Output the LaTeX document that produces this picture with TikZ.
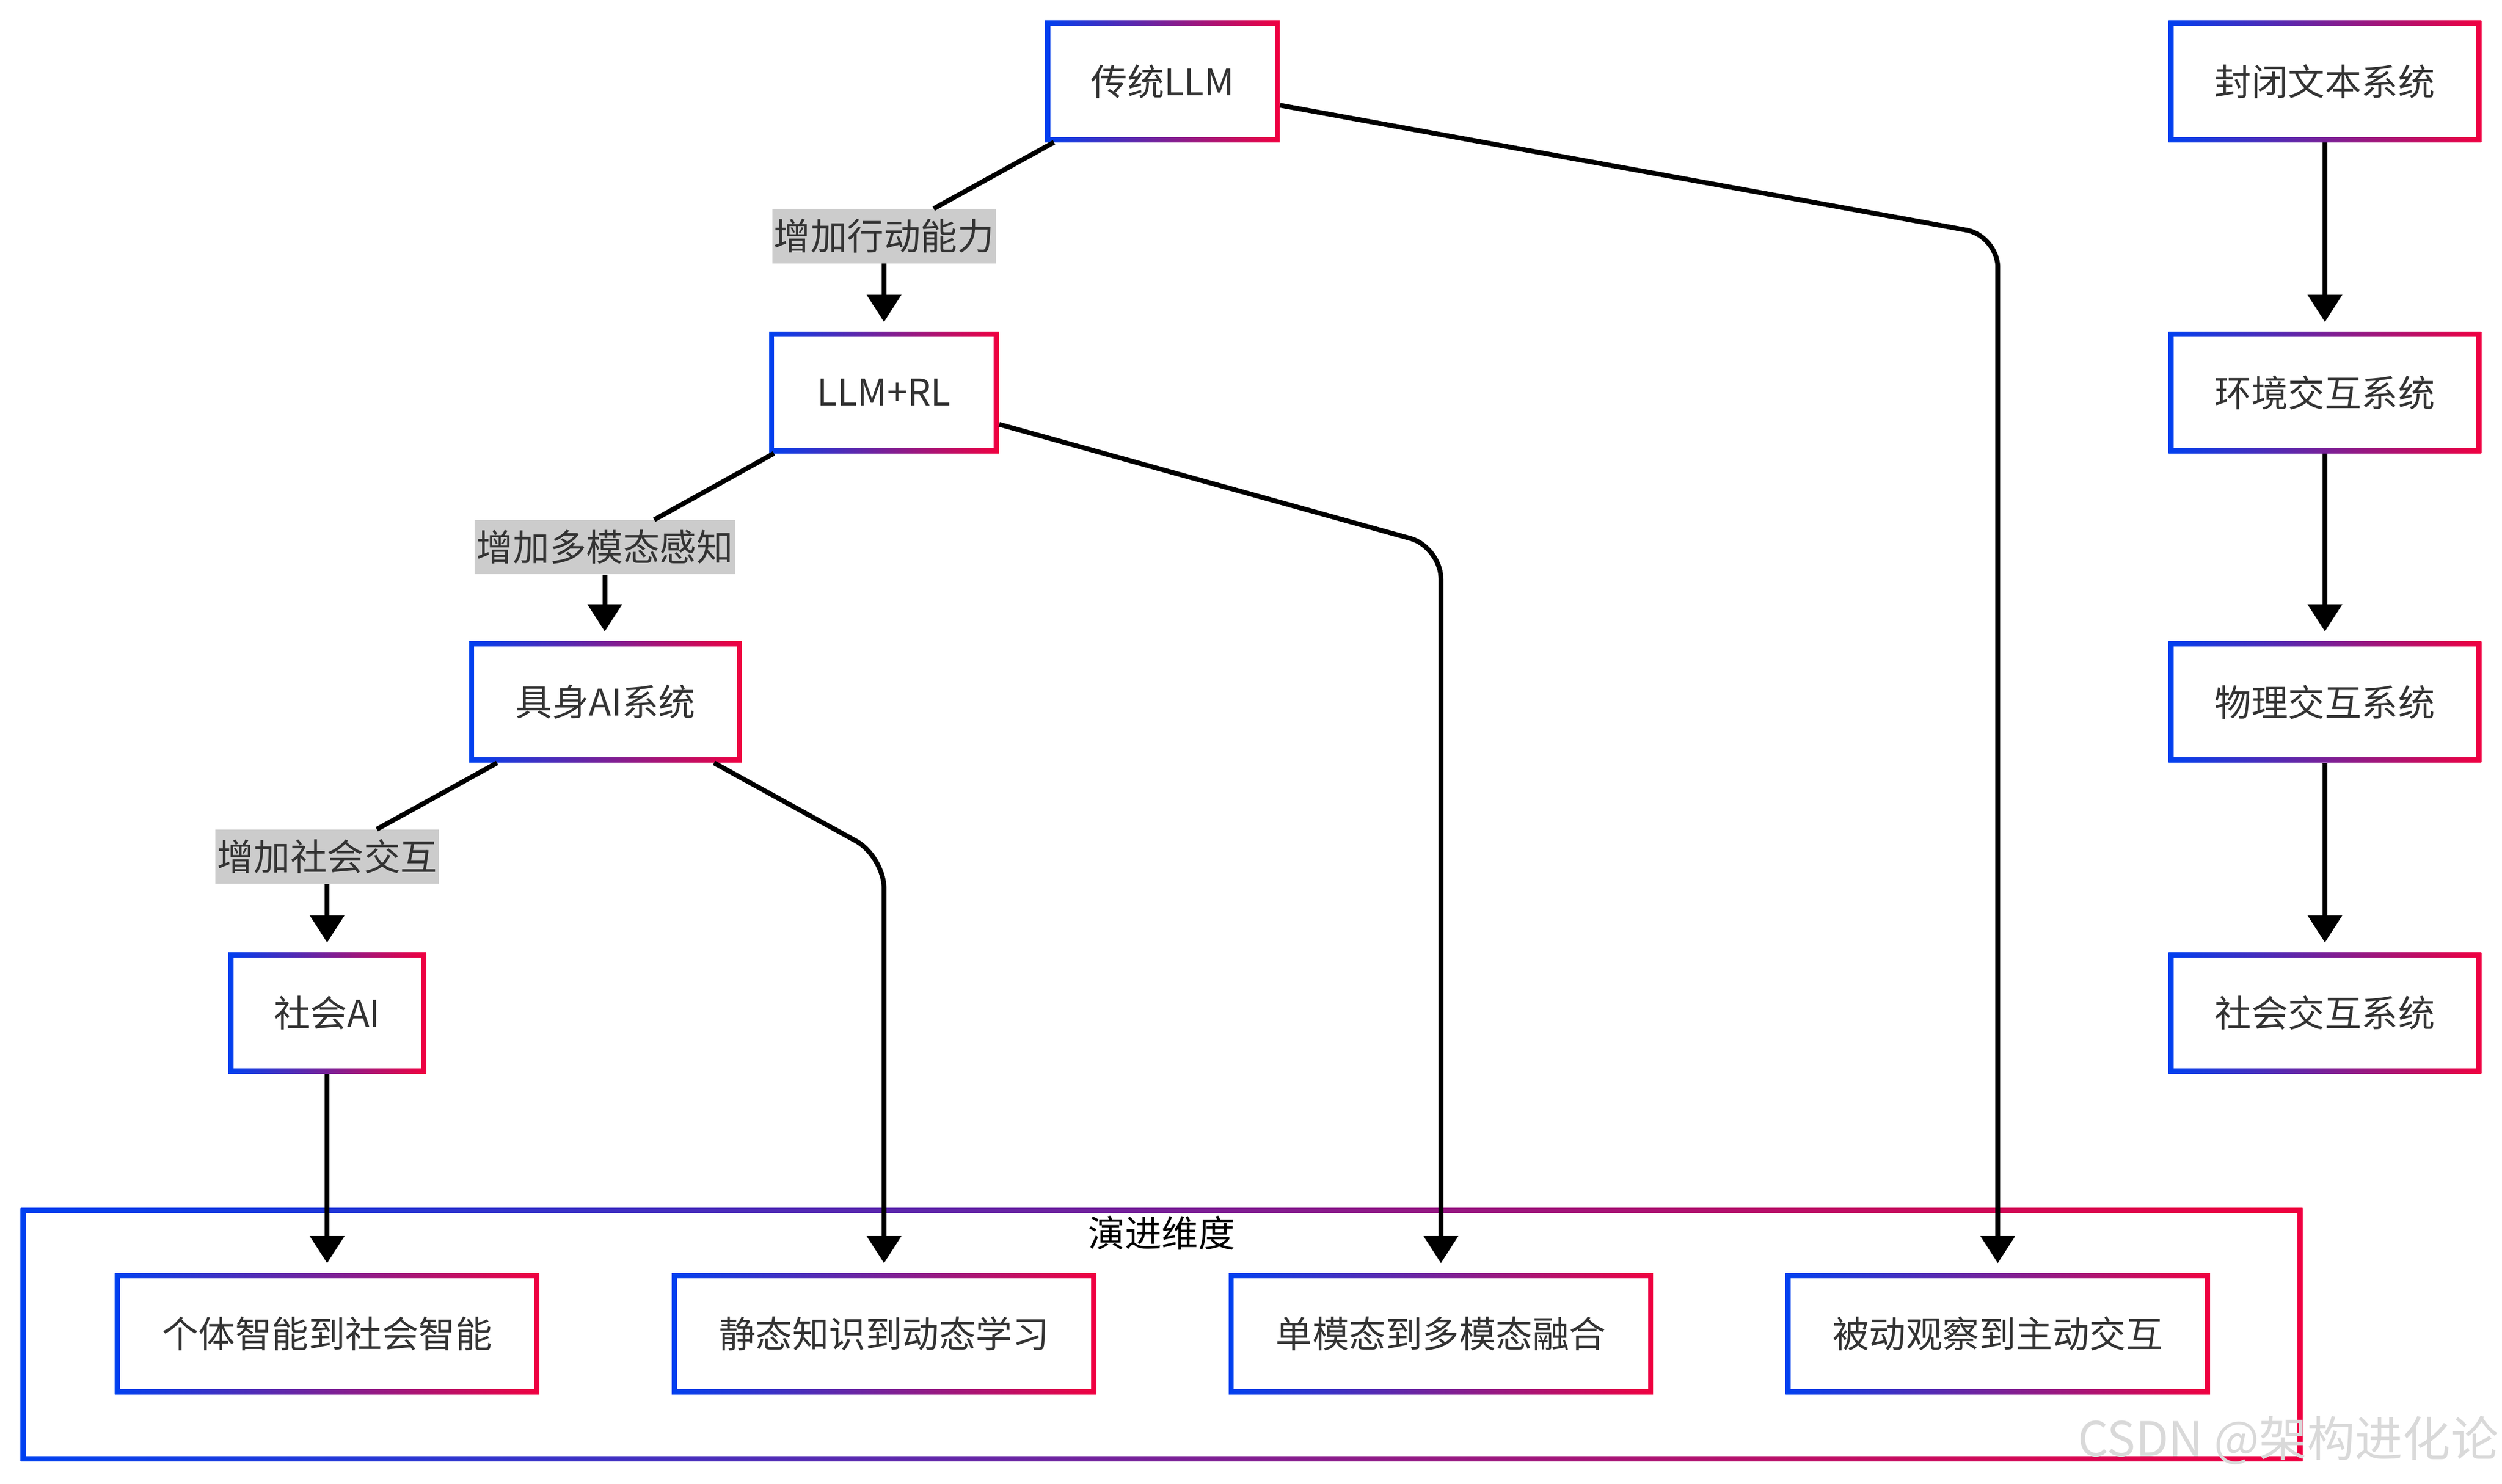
\documentclass[tikz,border=0pt]{standalone}
\usepackage{fontspec}
\newfontfamily\cjk{Noto Sans CJK SC}
\usetikzlibrary{arrows.meta}
\definecolor{gblue}{HTML}{0040F0}
\definecolor{gred}{HTML}{F00040}
\definecolor{txt}{HTML}{333333}
\begin{document}
\begin{tikzpicture}[x=1pt,y=1pt,>={Triangle[width=21pt,length=17pt]}]
                        \tikzstyle{stage} = [rectangle,inner sep=0pt,minimum height=76pt,left color=gblue,right color=gred,text=txt,font=\cjk\fontsize{23}{28}\selectfont,
                            path picture={\fill[white] ([shift={(3.2pt,3.2pt)}]path picture bounding box.south west) rectangle ([shift={(-3.2pt,-3.2pt)}]path picture bounding box.north east);}];
                        \tikzstyle{step label} = [rectangle,fill=black!20,text=txt,inner xsep=1pt,inner ysep=0pt,minimum height=34pt,font=\cjk\fontsize{23}{28}\selectfont];
                        \tikzstyle{link} = [draw=black,line width=3pt];
                        \tikzstyle{flow} = [link,->,shorten >=6pt];
                        \useasboundingbox (0,0) rectangle (1568,930);
                        % evolution dimensions
                        \node[stage,minimum width=1430pt,minimum height=159pt] (dims) at (728,93.5) {};
                        \node[text=black,font=\cjk\fontsize{23}{28}\selectfont] (dimstitle) at (728,157) {演进维度};
                        \node[stage,minimum width=266pt] (indiv) at (205,94) {个体智能到社会智能};
                        \node[stage,minimum width=266pt] (static) at (554,94) {静态知识到动态学习};
                        \node[stage,minimum width=266pt] (multi) at (903,94) {单模态到多模态融合};
                        \node[stage,minimum width=266pt] (passive) at (1252,94) {被动观察到主动交互};
                        % main line
                        \node[stage,minimum width=147pt] (trad) at (728.5,879) {传统LLM};
                        \node[stage,minimum width=144pt] (rl) at (554,684) {LLM+RL};
                        \node[stage,minimum width=171pt] (emb) at (379.5,490) {具身AI系统};
                        \node[stage,minimum width=124pt] (soc) at (205,295) {社会AI};
                        \node[step label] (act) at (554,782) {增加行动能力};
                        \node[step label] (perc) at (379,587) {增加多模态感知};
                        \node[step label] (social) at (205,393) {增加社会交互};
                        % system types
                        \node[stage,minimum width=196pt] (closed) at (1457,879) {封闭文本系统};
                        \node[stage,minimum width=196pt] (env) at (1457,684) {环境交互系统};
                        \node[stage,minimum width=196pt] (phys) at (1457,490) {物理交互系统};
                        \node[stage,minimum width=196pt] (socsys) at (1457,295) {社会交互系统};
                        \draw[link] ([xshift=-68pt]trad.south) -- (act);
                        \draw[flow] (act.south) -- (rl.north);
                        \draw[link] ([xshift=-69pt]rl.south) -- (perc);
                        \draw[flow] (perc.south) -- ([xshift=-0.5pt]emb.north);
                        \draw[link] ([xshift=-68pt]emb.south) -- (social);
                        \draw[flow] (social.south) -- (soc.north);
                        \draw[flow] (soc.south) -- (indiv.north);
                        \draw[flow,rounded corners=20pt] ([xshift=68pt]emb.south) -- ([yshift=261pt]static.north) -- (static.north);
                        \draw[flow,rounded corners=20pt] ([yshift=-20pt]rl.east) -- ([yshift=455pt]multi.north) -- (multi.north);
                        \draw[flow,rounded corners=20pt] ([yshift=-15pt]trad.east) -- ([yshift=650pt]passive.north) -- (passive.north);
                        \draw[flow] (closed.south) -- (env.north);
                        \draw[flow] (env.south) -- (phys.north);
                        \draw[flow] (phys.south) -- (socsys.north);
                        \node[anchor=east,text=black!15,inner sep=0pt,font=\cjk\fontsize{30}{34}\selectfont] (mark) at (1566,27) {CSDN @架构进化论};
                    \end{tikzpicture}
\end{document}
